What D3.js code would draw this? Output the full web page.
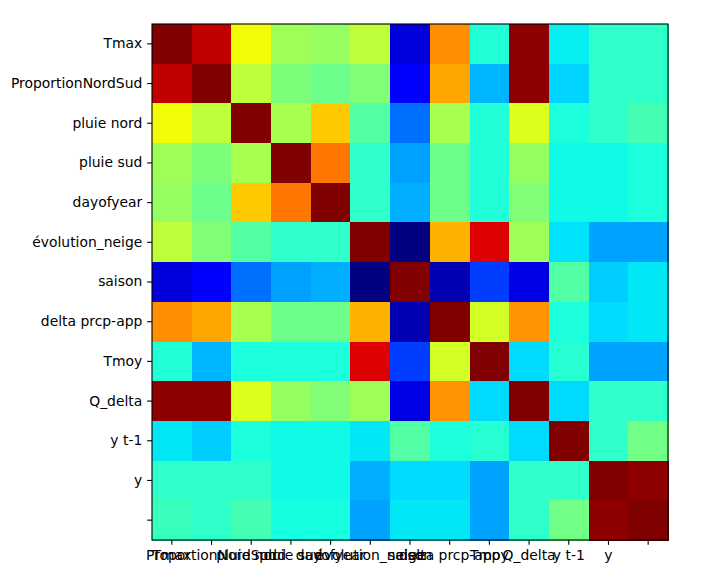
<!DOCTYPE html>
<html>
<head>
<meta charset="utf-8">
<script src="https://cdn.jsdelivr.net/npm/d3@7"></script>
<style>
  body { margin: 0; background: #fff; }
  svg { display: block; }
  .axis text { font-family: "DejaVu Sans", sans-serif; font-size: 13.9px; fill: #000; }
  .axis line { stroke: #000; stroke-width: 1.1; }
</style>
</head>
<body>
<svg id="chart" width="704" height="582"></svg>
<script>
// variable names (last row / column has no label in the original)
let labels = ["Tmax", "ProportionNordSud", "pluie nord", "pluie sud", "dayofyear",
    "évolution_neige", "saison", "delta prcp-app", "Tmoy", "Q_delta", "y t-1", "y", ""];

// correlation matrix, one row per variable
let rowTmax    = [1.00, 0.91, 0.42, 0.26, 0.24, 0.32, -0.49, 0.61, 0.01, 0.98, -0.04, 0.04, 0.04];
let rowPropNS  = [0.91, 1.00, 0.32, 0.19, 0.16, 0.20, -0.43, 0.57, -0.13, 0.98, -0.08, 0.04, 0.04];
let rowPNord   = [0.42, 0.32, 1.00, 0.28, 0.51, 0.11, -0.24, 0.28, 0.01, 0.38, 0.00, 0.04, 0.08];
let rowPSud    = [0.26, 0.19, 0.28, 1.00, 0.65, 0.04, -0.16, 0.16, 0.01, 0.24, -0.02, -0.02, 0.00];
let rowDoy     = [0.24, 0.16, 0.51, 0.65, 1.00, 0.04, -0.14, 0.16, 0.01, 0.20, -0.02, -0.02, 0.00];
let rowNeige   = [0.32, 0.20, 0.11, 0.04, 0.04, 1.00, -0.62, 0.55, 0.87, 0.26, -0.06, -0.16, -0.16];
let rowSaison  = [-0.49, -0.43, -0.24, -0.16, -0.14, -0.62, 1.00, -0.55, -0.32, -0.48, 0.11, -0.09, -0.05];
let rowDelta   = [0.61, 0.57, 0.28, 0.16, 0.16, 0.55, -0.55, 1.00, 0.36, 0.60, 0.00, -0.07, -0.05];
let rowTmoy    = [0.01, -0.13, 0.00, 0.00, 0.00, 0.87, -0.32, 0.36, 1.00, -0.07, 0.02, -0.16, -0.16];
let rowQdelta  = [0.98, 0.98, 0.38, 0.24, 0.20, 0.26, -0.48, 0.60, -0.07, 1.00, -0.07, 0.04, 0.04];
let rowYt1     = [-0.05, -0.09, 0.00, -0.02, -0.02, -0.05, 0.11, 0.00, 0.02, -0.07, 1.00, 0.04, 0.17];
let rowY       = [0.04, 0.04, 0.04, -0.02, -0.02, -0.14, -0.07, -0.07, -0.16, 0.04, 0.04, 1.00, 0.98];
let rowLast    = [0.06, 0.04, 0.08, -0.01, -0.01, -0.16, -0.05, -0.05, -0.16, 0.04, 0.17, 0.98, 1.00];

let matrix = [rowTmax, rowPropNS, rowPNord, rowPSud, rowDoy, rowNeige, rowSaison,
    rowDelta, rowTmoy, rowQdelta, rowYt1, rowY, rowLast];

// matplotlib "jet" colormap
function lin(stops, t) {
    for (let k = 1; k < stops.length; k++) {
        if (t <= stops[k][0]) {
            let a = stops[k - 1], b = stops[k];
            return a[1] + (b[1] - a[1]) * (t - a[0]) / (b[0] - a[0]);
        }
    }
    return stops[stops.length - 1][1];
}
function jet(t) {
    t = Math.max(0, Math.min(1, t));
    let r = lin([[0, 0], [0.35, 0], [0.66, 1], [0.89, 1], [1, 0.5]], t);
    let g = lin([[0, 0], [0.125, 0], [0.375, 1], [0.64, 1], [0.91, 0], [1, 0]], t);
    let b = lin([[0, 0.5], [0.11, 1], [0.34, 1], [0.65, 0], [1, 0]], t);
    return d3.rgb(r * 255, g * 255, b * 255).toString();
}

let svg = d3.select("#chart");
let margin = { top: 24, left: 152 };
let size = 516;

let idx = d3.range(labels.length);
let x = d3.scaleBand().domain(idx).range([margin.left, margin.left + size]);
let y = d3.scaleBand().domain(idx).range([margin.top, margin.top + size]);

let allValues = matrix.flat();
let color = d3.scaleSequential(jet).domain([d3.min(allValues), d3.max(allValues)]);

let cells = [];
matrix.forEach(function (row, i) {
    row.forEach(function (v, j) {
        cells.push({ i: i, j: j, v: v });
    });
});

svg.append("g")
    .selectAll("rect")
    .data(cells)
    .enter().append("rect")
    .attr("x", function (d) { return x(d.j); })
    .attr("y", function (d) { return y(d.i); })
    .attr("width", x.bandwidth() + 0.5)
    .attr("height", y.bandwidth() + 0.5)
    .attr("fill", function (d) { return color(d.v); })
    .attr("shape-rendering", "crispEdges");

let tick = 4.86;

let xAxis = svg.append("g")
    .attr("class", "axis")
    .attr("transform", "translate(0," + (margin.top + size) + ")")
    .call(d3.axisBottom(x).tickSize(tick).tickPadding(tick).tickFormat(function (i) { return labels[i]; }));
xAxis.select(".domain").remove();
xAxis.selectAll("text").attr("dy", "0.76em");

let yAxis = svg.append("g")
    .attr("class", "axis")
    .attr("transform", "translate(" + margin.left + ",0)")
    .call(d3.axisLeft(y).tickSize(tick).tickPadding(tick).tickFormat(function (i) { return labels[i]; }));
yAxis.select(".domain").remove();

svg.append("rect")
    .attr("x", margin.left)
    .attr("y", margin.top)
    .attr("width", size)
    .attr("height", size)
    .attr("fill", "none")
    .attr("stroke", "#000")
    .attr("stroke-width", 1.1);
</script>
</body>
</html>
